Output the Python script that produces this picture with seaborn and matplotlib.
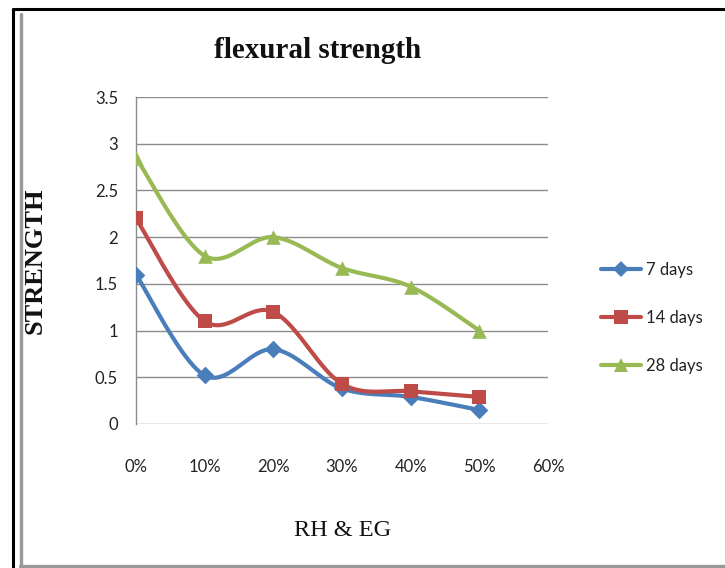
import numpy as np
import pandas as pd
import matplotlib
matplotlib.use("Agg")
import matplotlib.pyplot as plt
from matplotlib.lines import Line2D
import seaborn as sns

# ---- data ----
x_pct = [0, 10, 20, 30, 40, 50]
series_names = ["7 days", "14 days", "28 days"]
days7 = [1.6, 0.52, 0.8, 0.38, 0.29, 0.15]
days14 = [2.2, 1.1, 1.2, 0.43, 0.35, 0.29]
days28 = [2.85, 1.8, 2.0, 1.67, 1.47, 1.0]
x_ticks = [0, 10, 20, 30, 40, 50, 60]
x_tick_labels = ["0%", "10%", "20%", "30%", "40%", "50%", "60%"]
y_ticks = [0, 0.5, 1, 1.5, 2, 2.5, 3, 3.5]
y_tick_labels = ["0", "0.5", "1", "1.5", "2", "2.5", "3", "3.5"]

colors = ["#4A7EBB", "#BE4B48", "#98B954"]
markers = ["D", "s", "^"]
msizes = [9, 10, 10.5]


def smooth(xs, ys, n=40):
    """Excel-like smoothed line (Catmull-Rom Bezier)."""
    P = np.column_stack([xs, ys]).astype(float)
    out = []
    for i in range(len(P) - 1):
        p0 = P[max(i - 1, 0)]
        p1 = P[i]
        p2 = P[i + 1]
        p3 = P[min(i + 2, len(P) - 1)]
        c1 = p1 + (p2 - p0) / 6.0
        c2 = p2 - (p3 - p1) / 6.0
        t = np.linspace(0, 1, n)[:, None]
        seg = ((1 - t) ** 3) * p1 + 3 * ((1 - t) ** 2) * t * c1 + 3 * (1 - t) * t ** 2 * c2 + t ** 3 * p2
        if i > 0:
            seg = seg[1:]
        out.append(seg)
    return np.vstack(out)


sns.set_theme(style="white")
plt.rcParams["font.family"] = ["Lato", "DejaVu Sans"]

fig = plt.figure(figsize=(7.25, 5.68), dpi=100)
ax = fig.add_axes([136 / 725, 1 - 424 / 568, 412 / 725, 327 / 568])

for name, vals, c, m, ms in zip(series_names, [days7, days14, days28], colors, markers, msizes):
    curve = smooth(x_pct, vals)
    dfc = pd.DataFrame({"x": curve[:, 0], "y": curve[:, 1]})
    sns.lineplot(data=dfc, x="x", y="y", ax=ax, sort=False, color=c, lw=3.0,
                 legend=False, solid_capstyle="round", zorder=3)
    dfp = pd.DataFrame({"x": x_pct, "y": vals})
    sns.scatterplot(data=dfp, x="x", y="y", ax=ax, color=c, marker=m, s=ms ** 2,
                    edgecolor=c, linewidth=0, legend=False, zorder=4)

ax.set_xlim(0, 60)
ax.set_ylim(0, 3.5)
ax.set_xticks(x_ticks)
ax.set_xticklabels(x_tick_labels)
ax.set_yticks(y_ticks)
ax.set_yticklabels(y_tick_labels)
ax.tick_params(axis="both", length=0, labelsize=12, colors="#222222")
ax.tick_params(axis="x", pad=25)
ax.tick_params(axis="y", pad=13)

ax.grid(axis="y", color="#8c8c8c", lw=1.0)
ax.grid(axis="x", visible=False)
for s in ["top", "right", "bottom"]:
    ax.spines[s].set_visible(False)
ax.spines["left"].set_color("#8c8c8c")
ax.spines["left"].set_linewidth(1.0)

ax.set_xlabel("RH & EG", family=["Liberation Serif"], fontsize=17.5, color="#111111")
ax.set_ylabel("STRENGTH", family=["Liberation Serif"], fontsize=19, fontweight="bold", color="#111111")
ax.xaxis.set_label_coords(0.502, -0.294)
ax.yaxis.set_label_coords(-0.218, 0.50)

fig.text(318 / 725, 1 - 50 / 568, "flexural strength", family=["Liberation Serif"],
         fontsize=21, fontweight="bold", ha="center", va="center", color="#111111")

handles = [Line2D([0], [0], color=c, lw=3.0, marker=m, markersize=ms * 0.95,
                  markeredgewidth=0)
           for c, m, ms in zip(colors, markers, msizes)]
fig.legend(handles, series_names, loc="center left",
           bbox_to_anchor=(586 / 725, 1 - 318 / 568), frameon=False,
           fontsize=12, handlelength=2.4, handletextpad=0.3, labelspacing=1.92,
           labelcolor="#222222")

# frame lines
fig.add_artist(Line2D([12.5 / 725, 1], [1 - 9 / 568, 1 - 9 / 568], color="black", lw=2.2,
                      transform=fig.transFigure))
fig.add_artist(Line2D([13 / 725, 13 / 725], [0, 1 - 9 / 568], color="black", lw=2.2,
                      transform=fig.transFigure))
fig.add_artist(Line2D([20.5 / 725, 20.5 / 725], [1 - 566 / 568, 1 - 14 / 568], color="#999999",
                      lw=2.4, transform=fig.transFigure))
fig.add_artist(Line2D([20 / 725, 1], [1 - 566 / 568, 1 - 566 / 568], color="#999999",
                      lw=2.4, transform=fig.transFigure))

fig.savefig("out.png", dpi=100, facecolor="white")
